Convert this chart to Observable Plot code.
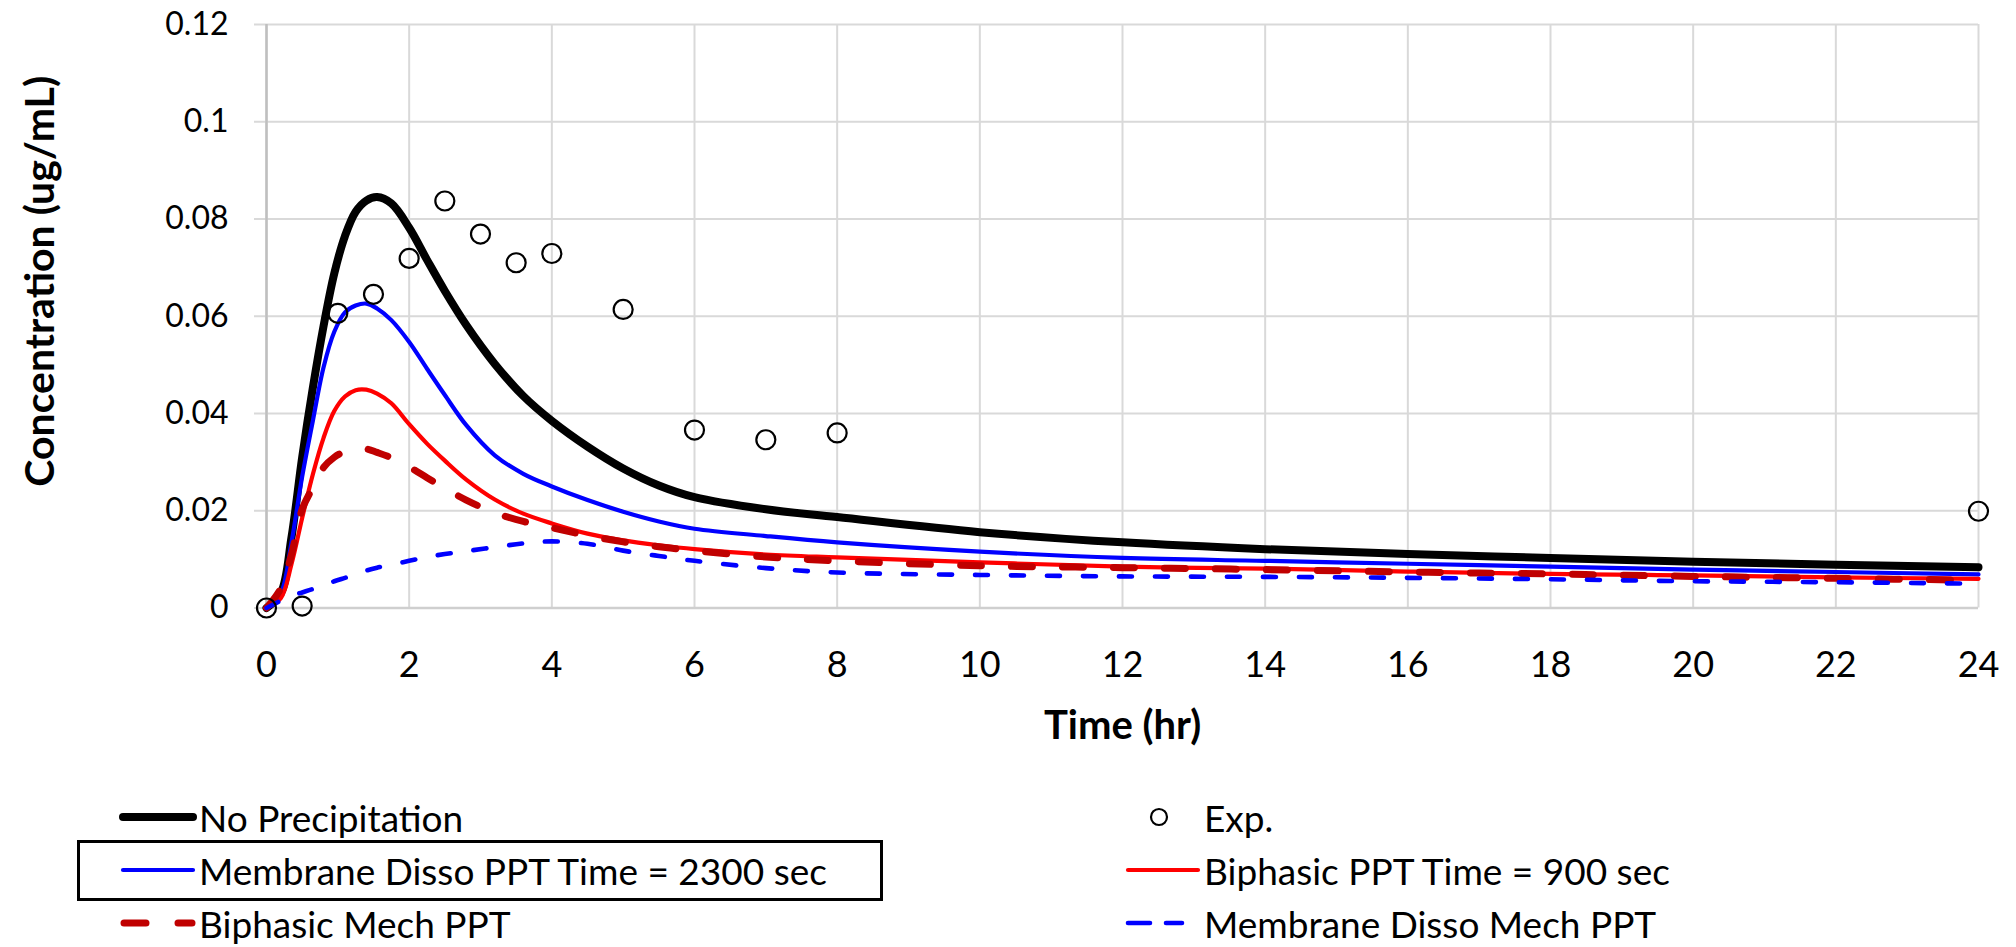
<!DOCTYPE html>
<html>
<head>
<meta charset="utf-8">
<script src="https://cdn.jsdelivr.net/npm/d3@7"></script>
<script src="https://cdn.jsdelivr.net/npm/@observablehq/plot@0.6"></script>
<style>
  html, body { margin: 0; padding: 0; background: #fff; }
  #wrap { position: relative; width: 2016px; height: 947px; overflow: hidden; font-family: Lato, sans-serif; }
  #legend { position: absolute; left: 0; top: 780px; width: 2016px; height: 167px; }
  .item { position: absolute; height: 50px; display: flex; align-items: center; font-size: 37px; color: #000; white-space: nowrap; }
  .item svg { display: block; }
  .box { position: absolute; border: 3.5px solid #000; box-sizing: border-box; }
</style>
</head>
<body>
<div id="wrap">
  <div id="chart"></div>
  <div id="legend"></div>
</div>
<script>
// ---- data ----
const times = [0, 0.2, 0.35, 0.5, 0.65, 0.8, 0.95, 1.1, 1.25, 1.4, 1.55, 1.75, 2, 2.25, 2.5, 2.8, 3.2, 3.6, 4, 4.5, 5, 5.5, 6, 7, 8, 10, 12, 14, 16, 18, 20, 22, 24];

const noPrecipitation = [0, 0.003, 0.0145, 0.031, 0.0453, 0.058, 0.0688, 0.0765, 0.0815, 0.0838, 0.0845, 0.0832, 0.0782, 0.0716, 0.0652, 0.0582, 0.0502, 0.0436, 0.0385, 0.0332, 0.0287, 0.0252, 0.0228, 0.0203, 0.0187, 0.0156, 0.0135, 0.0121, 0.0111, 0.0103, 0.0095, 0.0089, 0.0084];

const membrane2300 = [0, 0.003, 0.0135, 0.027, 0.0385, 0.0495, 0.0568, 0.0608, 0.0622, 0.0626, 0.0616, 0.0592, 0.0547, 0.0492, 0.0438, 0.0376, 0.0314, 0.0276, 0.025, 0.0222, 0.0198, 0.0178, 0.0163, 0.0148, 0.0135, 0.0116, 0.0103, 0.0097, 0.0091, 0.0085, 0.0079, 0.0074, 0.0069];

const biphasic900 = [0, 0.002, 0.009, 0.0185, 0.0275, 0.035, 0.0405, 0.0435, 0.0448, 0.0449, 0.0441, 0.0421, 0.0378, 0.0338, 0.0303, 0.0264, 0.0223, 0.0194, 0.0174, 0.0153, 0.0139, 0.0129, 0.0121, 0.011, 0.0104, 0.0094, 0.0085, 0.0081, 0.0075, 0.007, 0.0067, 0.0063, 0.006];

const biphasicMech = [0, 0.004, 0.011, 0.0203, 0.0248, 0.0289, 0.031, 0.0322, 0.0327, 0.0327, 0.032, 0.0309, 0.029, 0.0268, 0.0246, 0.0222, 0.0196, 0.0178, 0.0165, 0.0149, 0.0136, 0.0126, 0.0118, 0.0105, 0.0097, 0.0087, 0.0083, 0.0079, 0.0074, 0.007, 0.0065, 0.0061, 0.0057];

const membraneMech = [0, 0.0015, 0.0025, 0.0032, 0.0039, 0.0047, 0.0055, 0.0062, 0.0069, 0.0077, 0.0083, 0.0089, 0.0097, 0.0105, 0.0111, 0.0117, 0.0125, 0.0133, 0.0137, 0.0132, 0.0118, 0.0107, 0.0097, 0.0082, 0.0073, 0.0068, 0.0065, 0.0064, 0.0062, 0.0059, 0.0055, 0.0053, 0.005];

const expTime = [0, 0.5, 1, 1.5, 2, 2.5, 3, 3.5, 4, 5, 6, 7, 8, 24];
const expConc = [0, 0.0004, 0.0606, 0.0645, 0.0719, 0.0837, 0.0769, 0.071, 0.0729, 0.0614, 0.0366, 0.0346, 0.036, 0.0199];

const xTicks = [0, 2, 4, 6, 8, 10, 12, 14, 16, 18, 20, 22, 24];
const yTicks = [0, 0.02, 0.04, 0.06, 0.08, 0.1, 0.12];

const seriesNames = ["No Precipitation", "Exp.", "Membrane Disso PPT Time = 2300 sec", "Biphasic PPT Time = 900 sec", "Biphasic Mech PPT", "Membrane Disso Mech PPT"];
const yTitle = "Concentration (ug/mL)";
const xTitle = "Time (hr)";

// ---- styles ----
const styles = {
  noPrecipitation: {stroke: "#000000", strokeWidth: 8},
  membrane2300: {stroke: "#0000ff", strokeWidth: 4.2},
  biphasic900: {stroke: "#ff0000", strokeWidth: 4.2},
  biphasicMech: {stroke: "#c00000", strokeWidth: 7, strokeDasharray: "21,30", strokeLinecap: "round"},
  membraneMech: {stroke: "#0000ff", strokeWidth: 4.6, strokeDasharray: "13,23", strokeLinecap: "round"}
};

const table = (vals) => times.map((t, i) => ({t, c: vals[i]}));
const expData = expTime.map((t, i) => ({t, c: expConc[i]}));
const fmt = d => String(+d.toFixed(3));
const curve = "catmull-rom";

const chart = Plot.plot({
  width: 2016,
  height: 780,
  marginLeft: 266,
  marginRight: 38,
  marginTop: 24,
  marginBottom: 172.5,
  x: {domain: [0, 24]},
  y: {domain: [0, 0.12]},
  style: {fontFamily: "Lato, sans-serif", fontSize: "32px", color: "#000", background: "#fff", overflow: "visible"},
  marks: [
    Plot.gridY(yTicks, {stroke: "#d9d9d9", strokeOpacity: 1, strokeWidth: 2}),
    Plot.gridX(xTicks, {stroke: "#d9d9d9", strokeOpacity: 1, strokeWidth: 2}),
    Plot.axisY(yTicks, {tickSize: 12, tickPadding: 26, stroke: "#d9d9d9", strokeWidth: 2, tickFormat: fmt, fontSize: 32, label: null}),
    Plot.axisX(xTicks, {tickSize: 0, tickPadding: 43, fontSize: 36, label: null, tickFormat: fmt}),
    Plot.ruleY([0], {stroke: "#cfcfcf", strokeWidth: 2.5}),
    Plot.ruleX([0], {stroke: "#bfbfbf", strokeWidth: 2.5}),
    Plot.lineY(table(noPrecipitation), {x: "t", y: "c", curve, ...styles.noPrecipitation}),
    Plot.lineY(table(membrane2300), {x: "t", y: "c", curve, ...styles.membrane2300}),
    Plot.lineY(table(biphasic900), {x: "t", y: "c", curve, ...styles.biphasic900}),
    Plot.lineY(table(biphasicMech), {x: "t", y: "c", curve, ...styles.biphasicMech}),
    Plot.lineY(table(membraneMech), {x: "t", y: "c", curve, ...styles.membraneMech}),
    Plot.dot(expData, {x: "t", y: "c", r: 9.5, stroke: "#000", strokeWidth: 2.2, fill: "none"}),
    Plot.text([yTitle], {frameAnchor: "left", rotate: -90, dx: -226, dy: -35, fontSize: 41, fontWeight: "bold", textAnchor: "middle", lineAnchor: "middle", fill: "#000"}),
    Plot.text([xTitle], {frameAnchor: "bottom", dy: 118, fontSize: 40, fontWeight: "bold", textAnchor: "middle", lineAnchor: "middle", fill: "#000"})
  ]
});
document.getElementById("chart").appendChild(chart);

// ---- legend (HTML below the SVG) ----
const legend = document.getElementById("legend");
const rowsY = [37, 90, 143]; // centre of each row, relative to legend top
const ns = "http://www.w3.org/2000/svg";
function swatchLine(style, w, x1, x2) {
  const s = document.createElementNS(ns, "svg");
  s.setAttribute("width", w); s.setAttribute("height", 20);
  const l = document.createElementNS(ns, "line");
  l.setAttribute("x1", x1); l.setAttribute("x2", x2);
  l.setAttribute("y1", 10); l.setAttribute("y2", 10);
  l.setAttribute("stroke", style.stroke);
  l.setAttribute("stroke-width", style.strokeWidth);
  l.setAttribute("stroke-linecap", "round");
  if (style.strokeDasharray) l.setAttribute("stroke-dasharray", style.strokeDasharray);
  s.appendChild(l);
  return s;
}
function swatchDot() {
  const s = document.createElementNS(ns, "svg");
  s.setAttribute("width", 78); s.setAttribute("height", 24);
  const c = document.createElementNS(ns, "circle");
  c.setAttribute("cx", 33); c.setAttribute("cy", 12); c.setAttribute("r", 8);
  c.setAttribute("fill", "none"); c.setAttribute("stroke", "#000"); c.setAttribute("stroke-width", 2.2);
  s.appendChild(c);
  return s;
}
function addItem(x, row, swatch, label, swW) {
  const d = document.createElement("div");
  d.className = "item";
  d.style.left = x + "px";
  d.style.top = (rowsY[row] - 25) + "px";
  swatch.style.width = swW + "px";
  d.appendChild(swatch);
  const sp = document.createElement("span");
  sp.textContent = label;
  d.appendChild(sp);
  legend.appendChild(d);
}
// highlighted box around the second item
const box = document.createElement("div");
box.className = "box";
box.style.left = "77px"; box.style.top = "60px"; box.style.width = "806px"; box.style.height = "61px";
legend.appendChild(box);

addItem(117, 0, swatchLine(styles.noPrecipitation, 82, 6, 76), seriesNames[0], 82);
addItem(1126, 0, swatchDot(), seriesNames[1], 78);
addItem(117, 1, swatchLine(styles.membrane2300, 82, 6, 76), seriesNames[2], 82);
addItem(1122, 1, swatchLine(styles.biphasic900, 82, 6, 76), seriesNames[3], 82);
addItem(117, 2, swatchLine({...styles.biphasicMech, strokeDasharray: "22,32"}, 82, 7, 75), seriesNames[4], 82);
addItem(1122, 2, swatchLine({...styles.membraneMech, strokeDasharray: "22,16"}, 82, 6, 60), seriesNames[5], 82);
</script>
</body>
</html>
